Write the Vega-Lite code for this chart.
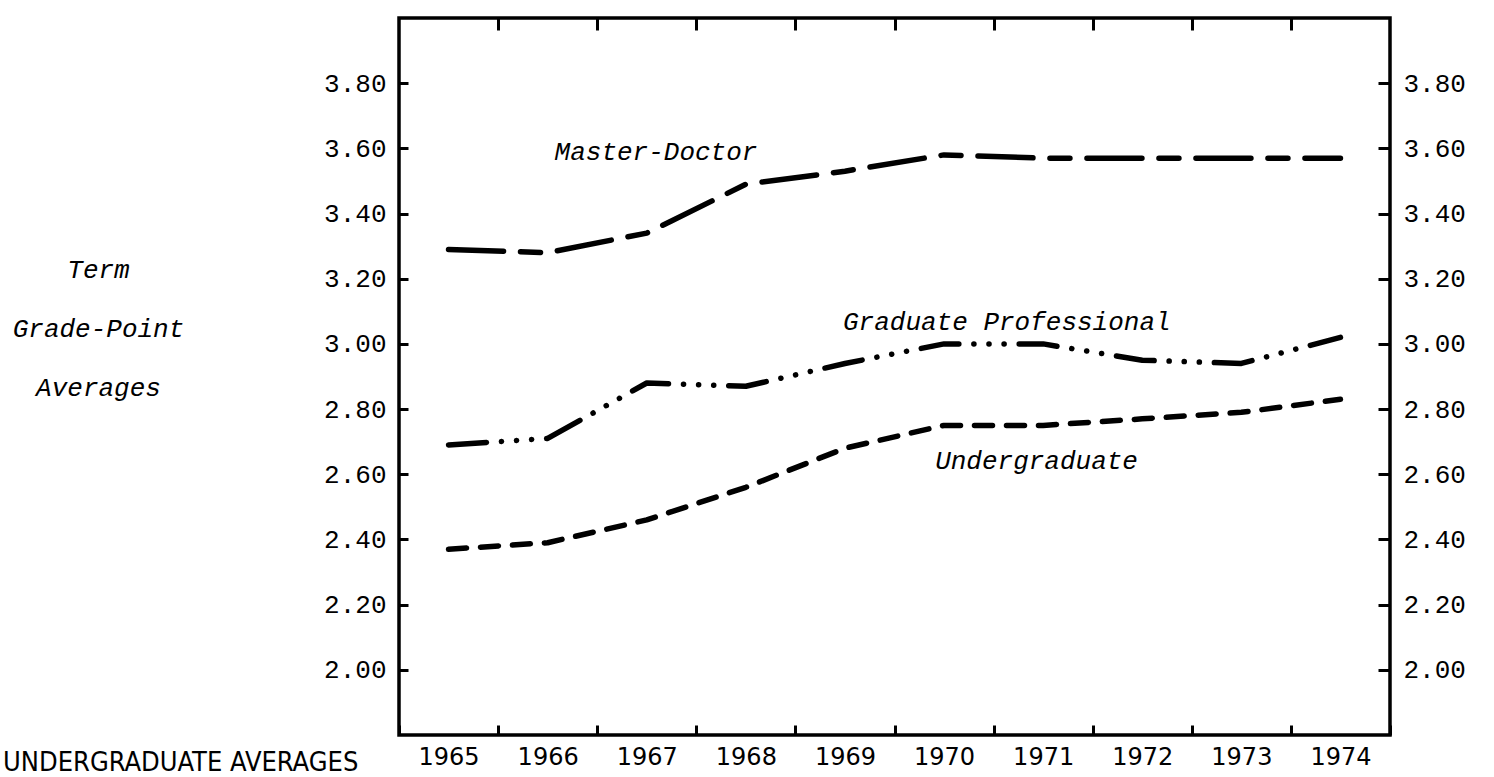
{
  "$schema": "https://vega.github.io/schema/vega-lite/v6.json",
  "autosize": {"type": "none"},
  "width": 991,
  "height": 717,
  "padding": {"left": 399, "top": 18, "right": 104, "bottom": 42},
  "background": "white",
  "view": {"stroke": "black", "strokeWidth": 3.5},
  "config": {
    "axis": {"grid": false, "domain": false, "tickColor": "black", "labelColor": "black", "titleColor": "black"},
    "title": {"color": "black"}
  },
  "title": {
    "text": "UNDERGRADUATE AVERAGES",
    "orient": "bottom",
    "anchor": "start",
    "frame": "group",
    "font": "Liberation Sans Narrow, DejaVu Sans Condensed, Liberation Sans",
    "fontSize": 27,
    "fontWeight": "normal",
    "baseline": "alphabetic",
    "dx": -396,
    "dy": 2,
    "offset": 0
  },
  "datasets": {
    "gpa": [
      {"year": "1965", "group": "Master-Doctor", "gpa": 3.29},
      {"year": "1966", "group": "Master-Doctor", "gpa": 3.28},
      {"year": "1967", "group": "Master-Doctor", "gpa": 3.34},
      {"year": "1968", "group": "Master-Doctor", "gpa": 3.49},
      {"year": "1969", "group": "Master-Doctor", "gpa": 3.53},
      {"year": "1970", "group": "Master-Doctor", "gpa": 3.58},
      {"year": "1971", "group": "Master-Doctor", "gpa": 3.57},
      {"year": "1972", "group": "Master-Doctor", "gpa": 3.57},
      {"year": "1973", "group": "Master-Doctor", "gpa": 3.57},
      {"year": "1974", "group": "Master-Doctor", "gpa": 3.57},
      {"year": "1965", "group": "Graduate Professional", "gpa": 2.69},
      {"year": "1966", "group": "Graduate Professional", "gpa": 2.71},
      {"year": "1967", "group": "Graduate Professional", "gpa": 2.88},
      {"year": "1968", "group": "Graduate Professional", "gpa": 2.87},
      {"year": "1969", "group": "Graduate Professional", "gpa": 2.94},
      {"year": "1970", "group": "Graduate Professional", "gpa": 3.0},
      {"year": "1971", "group": "Graduate Professional", "gpa": 3.0},
      {"year": "1972", "group": "Graduate Professional", "gpa": 2.95},
      {"year": "1973", "group": "Graduate Professional", "gpa": 2.94},
      {"year": "1974", "group": "Graduate Professional", "gpa": 3.02},
      {"year": "1965", "group": "Undergraduate", "gpa": 2.37},
      {"year": "1966", "group": "Undergraduate", "gpa": 2.39},
      {"year": "1967", "group": "Undergraduate", "gpa": 2.46},
      {"year": "1968", "group": "Undergraduate", "gpa": 2.56},
      {"year": "1969", "group": "Undergraduate", "gpa": 2.68},
      {"year": "1970", "group": "Undergraduate", "gpa": 2.75},
      {"year": "1971", "group": "Undergraduate", "gpa": 2.75},
      {"year": "1972", "group": "Undergraduate", "gpa": 2.77},
      {"year": "1973", "group": "Undergraduate", "gpa": 2.79},
      {"year": "1974", "group": "Undergraduate", "gpa": 2.83}
    ],
    "labels": [
      {"label": "Master-Doctor", "x": 1966.57, "y": 3.565},
      {"label": "Graduate Professional", "x": 1969.48, "y": 3.043},
      {"label": "Undergraduate", "x": 1970.41, "y": 2.617}
    ]
  },
  "layer": [
    {
      "data": {"name": "gpa"},
      "mark": {"type": "line", "color": "black", "strokeCap": "round", "strokeJoin": "round"},
      "encoding": {
        "x": {
          "field": "year", "type": "ordinal",
          "scale": {"type": "band", "domain": ["1965","1966","1967","1968","1969","1970","1971","1972","1973","1974"], "paddingInner": 0, "paddingOuter": 0},
          "axis": {"orient": "bottom", "title": null, "labelAngle": 0, "tickBand": "extent", "tickSize": -10, "tickWidth": 3, "labelPadding": 20, "labelFont": "DejaVu Sans", "labelFontSize": 24, "labelBaseline": "top"}
        },
        "y": {
          "field": "gpa", "type": "quantitative",
          "scale": {"domain": [1.8, 4.0], "nice": false, "zero": false},
          "axis": {
            "orient": "left",
            "values": [2.0, 2.2, 2.4, 2.6, 2.8, 3.0, 3.2, 3.4, 3.6, 3.8],
            "format": ".2f",
            "tickSize": -9, "tickWidth": 3, "labelPadding": 22,
            "labelFont": "Liberation Mono", "labelFontSize": 26,
            "title": ["Term", "Grade-Point", "Averages"],
            "titleAngle": 0, "titleAlign": "center", "titleBaseline": "alphabetic",
            "titleX": -301, "titleY": 259, "titleLineHeight": 59,
            "titleFont": "Liberation Mono", "titleFontStyle": "italic", "titleFontWeight": "normal", "titleFontSize": 26
          }
        },
        "strokeDash": {
          "field": "group", "type": "nominal",
          "scale": {"domain": ["Master-Doctor", "Graduate Professional", "Undergraduate"], "range": [[55, 17, 20, 17], [38, 15, 0.1, 15, 0.1, 15, 0.1, 15], [18, 14]]},
          "legend": null
        },
        "strokeWidth": {
          "field": "group", "type": "ordinal",
          "scale": {"domain": ["Master-Doctor", "Graduate Professional", "Undergraduate"], "range": [5.5, 5.5, 4.2]},
          "legend": null
        }
      }
    },
    {
      "data": {"name": "labels"},
      "mark": {"type": "text", "align": "left", "baseline": "alphabetic", "font": "Liberation Mono", "fontStyle": "italic", "fontSize": 26, "color": "black"},
      "encoding": {
        "text": {"field": "label"},
        "x": {
          "field": "x", "type": "quantitative",
          "scale": {"domain": [1965, 1975], "nice": false, "zero": false},
          "axis": {"orient": "top", "title": null, "labels": false, "values": [1966, 1967, 1968, 1969, 1970, 1971, 1972, 1973, 1974], "tickSize": -12, "tickWidth": 3}
        },
        "y": {
          "field": "y", "type": "quantitative",
          "scale": {"domain": [1.8, 4.0], "nice": false, "zero": false},
          "axis": {
            "orient": "right", "title": null,
            "values": [2.0, 2.2, 2.4, 2.6, 2.8, 3.0, 3.2, 3.4, 3.6, 3.8],
            "format": ".2f",
            "tickSize": -12, "tickWidth": 3, "labelPadding": 25,
            "labelFont": "Liberation Mono", "labelFontSize": 26
          }
        }
      }
    }
  ],
  "resolve": {"scale": {"x": "independent", "y": "independent"}}
}
